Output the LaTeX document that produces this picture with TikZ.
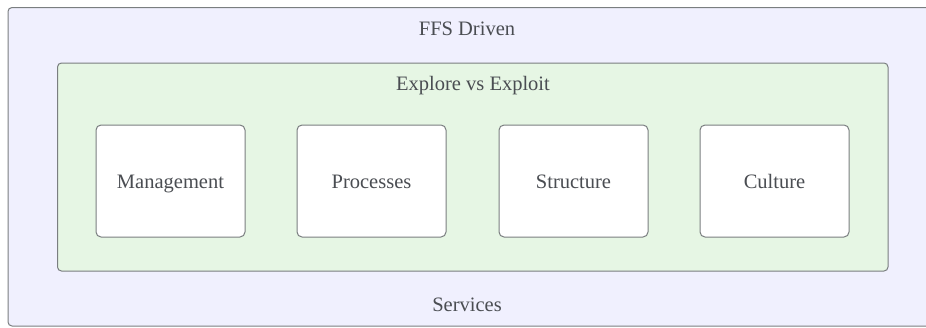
\documentclass[tikz,border=0pt]{standalone}
\usepackage{fontspec}
\setmainfont{Liberation Serif}
\definecolor{outerfill}{HTML}{F0F0FE}
\definecolor{greenfill}{HTML}{E6F6E4}
\definecolor{edgegray}{HTML}{7A7E80}
\definecolor{txt}{HTML}{4A4D52}
\begin{document}
\begin{tikzpicture}[x=1pt,y=-1pt,
  outerbox/.style={draw=edgegray,fill=outerfill,line width=1pt,rounded corners=4pt},
  greenbox/.style={draw=edgegray,fill=greenfill,line width=1pt,rounded corners=4pt},
  itembox/.style={draw=edgegray,fill=white,line width=1pt,rounded corners=5pt,minimum width=149pt,minimum height=112pt,inner sep=0pt},
  lbl/.style={text=txt,font=\fontsize{20.5}{22}\selectfont,inner sep=0pt,anchor=base}]
\useasboundingbox (0,0) rectangle (926,327);
\clip (0,0) rectangle (926,327);
\draw[outerbox] (8,7.5) rectangle (935,326);
\draw[greenbox] (57.5,63) rectangle (888,271);
\node[lbl] (t1) at (467,35.7) {FFS Driven};
\node[lbl] (t2) at (473,90.7) {Explore vs Exploit};
\node[lbl] (t3) at (467,311) {Services};
\node[itembox] (m) at (170.5,181) {};
\node[itembox] (p) at (371.5,181) {};
\node[itembox] (s) at (573.5,181) {};
\node[itembox] (c) at (774.5,181) {};
\node[lbl] (mt) at (m.center |- 0,188.5) {Management};
\node[lbl] (pt) at (p.center |- 0,188.5) {Processes};
\node[lbl] (st) at (s.center |- 0,188.5) {Structure};
\node[lbl] (ct) at (c.center |- 0,188.5) {Culture};
\end{tikzpicture}
\end{document}
